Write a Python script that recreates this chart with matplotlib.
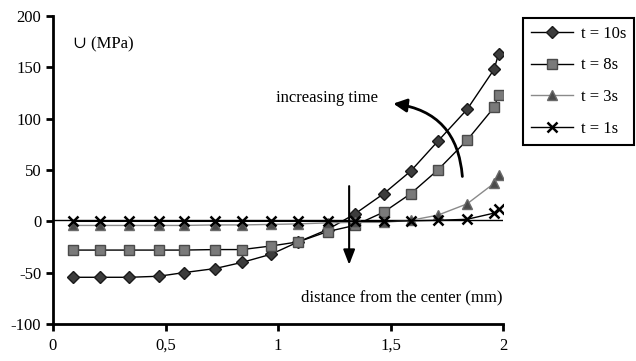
import numpy as np
import matplotlib.pyplot as plt
from matplotlib.patches import FancyArrowPatch

plt.rcParams['font.family'] = ['Liberation Serif', 'DejaVu Serif']
plt.rcParams['axes.unicode_minus'] = False

# distances (mm)
dist = [0.09, 0.21, 0.34, 0.47, 0.58, 0.72, 0.84, 0.97, 1.09, 1.22,
        1.34, 1.47, 1.59, 1.71, 1.84, 1.96, 1.98]

# stress (MPa) per time step
s10 = [-54.5, -54.5, -54.5, -53.5, -50, -46, -40, -32, -20, -8,
       7, 27, 49, 78, 109, 148, 163]
s8 = [-28, -28, -28, -28, -28, -27.5, -27.5, -24, -20, -10,
      -4, 9, 27, 50, 79, 111, 123]
s3 = [-4, -4, -4, -4, -4, -3.5, -3.5, -3, -2.5, -1.5,
      -1, -1, 1, 6, 17, 37, 45]
s1 = [0, 0, 0, 0, 0, 0, 0, 0, 0, 0,
      0, 0, 0.5, 1, 2, 8, 12]

labels = ['t = 10s', 't = 8s', 't = 3s', 't = 1s']

fig = plt.figure(figsize=(6.36, 3.61), dpi=100)
ax = fig.add_axes([0.0833, 0.1025, 0.7077, 0.8532])

# reference line
ax.plot([0, 2], [1.5, 1.5], color='black', lw=1.0, zorder=1)

ax.plot(dist, s10, color='black', lw=1.0, marker='D', ms=6,
        mfc='#3c3c3c', mec='#1a1a1a', label=labels[0])
ax.plot(dist, s8, color='black', lw=1.0, marker='s', ms=7.5,
        mfc='#7a7a7a', mec='#4a4a4a', label=labels[1])
ax.plot(dist, s3, color='#8a8a8a', lw=1.0, marker='^', ms=7,
        mfc='#4a4a4a', mec='#6a6a6a', label=labels[2])
ax.plot(dist, s1, color='black', lw=1.0, marker='x', ms=6.5, mew=1.8,
        mec='black', label=labels[3])

ax.set_xlim(0, 2)
ax.set_ylim(-100, 200)
ax.set_xticks([0, 0.5, 1, 1.5, 2])
ax.set_xticklabels(['0', '0,5', '1', '1,5', '2'])
ax.set_yticks([-100, -50, 0, 50, 100, 150, 200])
for s in ['top', 'right']:
    ax.spines[s].set_visible(False)
for s in ['left', 'bottom']:
    ax.spines[s].set_linewidth(2)
ax.tick_params(direction='out', width=2, length=5, labelsize=12)
ax.tick_params(axis='x', pad=5)

ax.text(0.09, 172, '\u222a (MPa)', fontsize=12, va='center')
ax.text(1.1, -74, 'distance from the center (mm)', fontsize=12, va='center')
ax.text(0.99, 120, 'increasing time', fontsize=12, va='center')

# curved arrow
arr = FancyArrowPatch((1.82, 41), (1.5, 115), connectionstyle='arc3,rad=0.42',
                      arrowstyle='-|>,head_length=8,head_width=4',
                      color='black', lw=2)
ax.add_patch(arr)
ax.annotate('', xy=(1.316, -45), xytext=(1.316, 37),
            arrowprops=dict(arrowstyle='-|>,head_length=0.9,head_width=0.35',
                            color='black', lw=1.5))

leg = fig.legend(loc='upper left', bbox_to_anchor=(0.823, 0.95), fontsize=12,
                 fancybox=False, edgecolor='black', framealpha=1,
                 handlelength=2.5, borderpad=0.45, labelspacing=0.95,
                 handletextpad=0.5, borderaxespad=0)
leg.get_frame().set_linewidth(1.5)

fig.savefig('out.png', dpi=100)
